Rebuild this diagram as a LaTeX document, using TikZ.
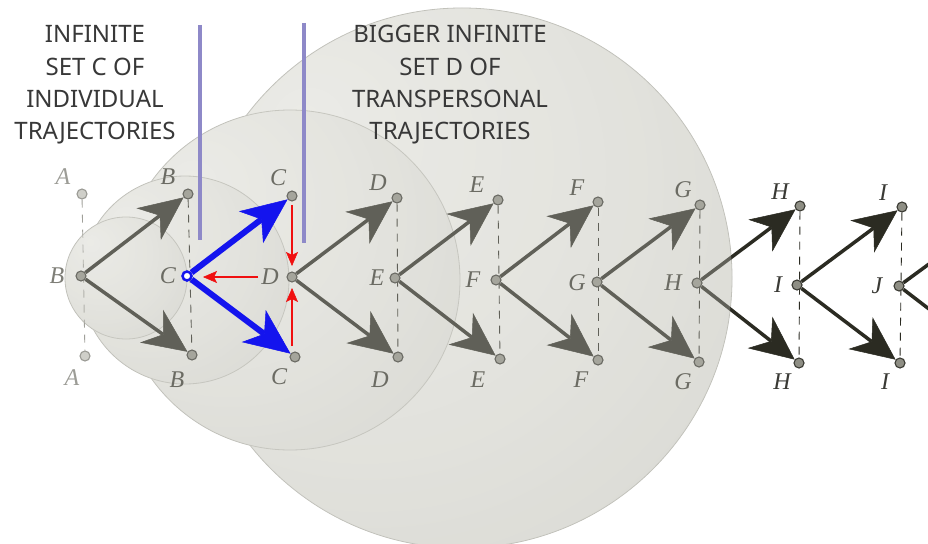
\documentclass[tikz,border=0pt]{standalone}
\usepackage{fontspec}
\newfontfamily\capfont{Noto Sans}
\newfontfamily\letfont{Liberation Serif}
\usetikzlibrary{arrows.meta}
\definecolor{ink}{HTML}{2B2B22}
\definecolor{letG}{HTML}{6B6B63}
\definecolor{letD}{HTML}{3A3A35}
\definecolor{letA}{HTML}{9C9C96}
\definecolor{letB}{HTML}{7E7E77}
\definecolor{dotfill}{HTML}{8E8E84}
\definecolor{dotrim}{HTML}{3A3A33}
\definecolor{dotfillA}{HTML}{CFCFC9}
\definecolor{dotrimA}{HTML}{9A9A94}
\definecolor{dashA}{HTML}{A0A09A}
\definecolor{rimc}{HTML}{BDBDB6}
\definecolor{ovl}{HTML}{DCDCD6}
\definecolor{bluec}{HTML}{1414EE}
\definecolor{redc}{HTML}{F01010}
\definecolor{lav}{HTML}{8E89C8}
\definecolor{capc}{HTML}{383838}
\pgfdeclareradialshading{sph}{\pgfpoint{-15bp}{15bp}}{rgb(0bp)=(0.95,0.95,0.935); rgb(25bp)=(0.90,0.90,0.88); rgb(45bp)=(0.835,0.835,0.815); rgb(56bp)=(0.75,0.75,0.725); rgb(66bp)=(0.70,0.70,0.675)}
\pgfdeclarelayer{back}\pgfdeclarelayer{mid}\pgfdeclarelayer{front}\pgfdeclarelayer{top}
\pgfsetlayers{back,mid,main,front,top}
\begin{document}
\begin{tikzpicture}[x=1pt,y=-1pt,
  gdot/.style={circle,inner sep=0pt,minimum size=10pt,fill=dotfill,draw=dotrim,line width=1.1pt},
  gdotA/.style={gdot,fill=dotfillA,draw=dotrimA},
  ltr/.style={font=\letfont\itshape\fontsize{24}{24}\selectfont, inner sep=0pt},
  capt/.style={font=\capfont\fontsize{24}{24}\selectfont, text=capc, anchor=base, inner sep=0pt},
  dashln/.style={draw=ink, line width=0.9pt, dash pattern=on 8pt off 7pt},
  garr/.style={draw=ink, line width=3.5pt, -{Stealth[length=44pt,width=40pt,inset=14pt,line width=0.5pt]}},
  barr/.style={draw=bluec, line width=6pt, -{Stealth[length=46pt,width=40pt,inset=13pt,line width=0.5pt]}},
  rarr/.style={draw=redc, line width=1.6pt, -{Stealth[length=14pt,width=12pt,inset=3pt,line width=0.5pt]}},
  sphere/.style={shading=sph, draw=rimc, line width=0.8pt},
  lavln/.style={draw=lav, line width=4pt}]
\useasboundingbox (0,0) rectangle (928,543);

% dots
\node[gdotA] (t1) at (82,194) {};
\node[gdot]  (m1) at (81,276) {};
\node[gdotA] (b1) at (85,356) {};
\node[gdot] (t2) at (188,194) {};
\node[gdot] (b2) at (192,355) {};
\foreach \i/\xt/\yt/\xm/\ym/\xb/\yb in {3/292/196/292/277/295/357, 4/397/198/395/278/398/357, 5/498/200/496/280/500/359, 6/598/202/597/282/598/360, 7/700/205/697/283/699/362, 8/800/206/797/285/799/363, 9/902/207/899/286/900/363}{
  \node[gdot] (t\i) at (\xt,\yt) {};
  \node[gdot] (m\i) at (\xm,\ym) {};
  \node[gdot] (b\i) at (\xb,\yb) {};
}
\coordinate (t10) at (1004,209);
\coordinate (b10) at (1002,365);

\begin{pgfonlayer}{back}
\fill[white] (0,0) rectangle (928,543);
\shade[sphere] (462,278) circle[radius=270];
\shade[sphere] (290,280) circle[radius=170];
\shade[sphere] (185,280) circle[radius=104];
\shade[sphere] (126,278) circle[radius=61];
\end{pgfonlayer}

\begin{pgfonlayer}{mid}
\draw[dashln, draw=dashA] (t1) -- (b1);
\foreach \i in {2,4,5,6,7,8,9}{ \draw[dashln] (t\i) -- (b\i); }
\foreach \i/\j in {1/2,3/4,4/5,5/6,6/7,7/8,8/9,9/10}{
  \draw[garr] (m\i) -- (t\j);
  \draw[garr] (m\i) -- (b\j);
}
\end{pgfonlayer}

\begin{pgfonlayer}{front}
\fill[ovl, fill opacity=0.3] (462,278) circle[radius=270] (290,280) circle[radius=170] (185,280) circle[radius=104] (126,278) circle[radius=61];
% letters
\node[ltr, text=letA] (lt1) at (63,177) {A};
\node[ltr, text=letB] (lm1) at (57,276) {B};
\node[ltr, text=letA] (lb1) at (72,378) {A};
\foreach \i/\tl/\tx/\ty/\ml/\mx/\my/\bl/\bx/\by/\c in {
  2/B/168/177/C/168/276/B/177/380/letG,
  3/C/278/178/D/270/277/C/279/377/letG,
  4/D/378/183/E/377/278/D/380/380/letG,
  5/E/477/185/F/473/280/E/478/380/letG,
  6/F/577/188/G/577/283/F/581/380/letG,
  7/G/683/190/H/673/283/G/683/382/letG,
  8/H/780/192/I/778/285/H/782/382/letD,
  9/I/883/193/J/877/286/I/885/382/letD}{
  \node[ltr, text=\c] (lt\i) at (\tx,\ty) {\tl};
  \node[ltr, text=\c] (lm\i) at (\mx,\my) {\ml};
  \node[ltr, text=\c] (lb\i) at (\bx,\by) {\bl};
}
\end{pgfonlayer}

\begin{pgfonlayer}{top}
\node[circle, inner sep=0pt, minimum size=9pt, draw=bluec, fill=white, line width=2.5pt] (m2) at (187,276) {};
\draw[barr] (m2) -- (t3);
\draw[barr] (m2) -- (b3);
\coordinate (rh0) at (258,277);
\coordinate (rh1) at (203,277);
\coordinate (rv0) at (292,205);
\coordinate (rv1) at (292,266);
\coordinate (ru0) at (292,346);
\coordinate (ru1) at (292,288);
\draw[rarr] (rh0) -- (rh1);
\draw[rarr] (rv0) -- (rv1);
\draw[rarr] (ru0) -- (ru1);
\coordinate (v1a) at (200,25);
\coordinate (v1b) at (200,240);
\coordinate (v2a) at (304,23);
\coordinate (v2b) at (304,243);
\draw[lavln] (v1a) -- (v1b);
\draw[lavln] (v2a) -- (v2b);
\node[capt] (c1) at (95,43) {INFINITE};
\node[capt] (c2) at (95,75) {SET C OF};
\node[capt] (c3) at (95,107) {INDIVIDUAL};
\node[capt] (c4) at (95,139) {TRAJECTORIES};
\node[capt] (d1) at (450,43) {BIGGER INFINITE};
\node[capt] (d2) at (450,75) {SET D OF};
\node[capt] (d3) at (450,107) {TRANSPERSONAL};
\node[capt] (d4) at (450,139) {TRAJECTORIES};
\end{pgfonlayer}
\end{tikzpicture}
\end{document}
